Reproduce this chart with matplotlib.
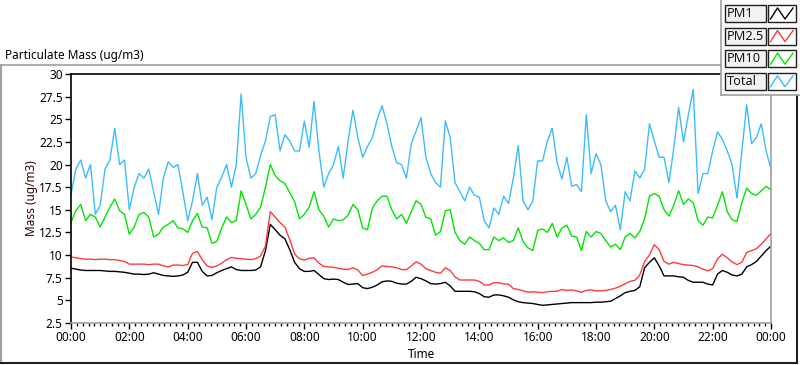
import numpy as np
import matplotlib
matplotlib.use("Agg")
import matplotlib.pyplot as plt
from matplotlib.patches import Rectangle
from matplotlib.lines import Line2D
from matplotlib.ticker import MultipleLocator, FuncFormatter

# 10-minute readings over one day (00:00 .. 24:00)
total = [16.7, 19.5, 20.5, 18.5, 20.0, 14.5, 15.5, 19.5, 20.5, 24.0, 20.0, 20.5, 15.0, 17.5, 19.0, 18.5, 19.5, 17.0, 14.5, 18.5, 20.3,
         19.7, 20.0, 17.0, 13.8, 16.0, 19.0, 15.5, 16.4, 13.9, 17.5, 18.6, 20.0, 17.5, 20.0, 27.8, 20.8, 18.5, 19.0, 21.0, 22.6, 25.3,
         25.5, 21.5, 23.3, 22.6, 21.5, 21.5, 24.8, 21.9, 27.0, 21.5, 17.5, 19.0, 20.0, 22.0, 18.5, 22.6, 26.0, 23.0, 20.8, 22.0,
         23.0, 25.0, 26.5, 24.5, 22.0, 20.2, 20.0, 18.5, 22.3, 23.7, 25.2, 20.8, 19.0, 18.0, 17.5, 24.8, 23.0, 18.0, 17.0, 16.0, 17.5,
         16.6, 16.4, 13.8, 13.0, 15.2, 14.5, 16.5, 15.7, 18.5, 22.1, 16.0, 15.0, 16.0, 20.4, 20.4, 22.6, 24.0, 20.2, 18.4, 20.8,
         17.6, 17.8, 17.0, 25.5, 19.0, 21.2, 20.0, 16.0, 14.8, 15.5, 12.8, 17.0, 16.0, 19.3, 18.5, 19.5, 24.5, 22.6, 20.8, 20.8, 18.0,
         21.8, 26.3, 22.5, 25.5, 28.3, 16.8, 19.0, 19.0, 21.5, 23.6, 22.8, 21.5, 20.0, 16.3, 21.5, 26.6, 22.3, 23.0, 24.5, 21.5, 19.5]

pm10 = [13.6, 14.9, 15.6, 13.8, 14.5, 14.2, 13.1, 14.2, 15.3, 16.2, 14.9, 14.5, 12.3, 13.1, 14.5, 14.7, 14.2, 12.0, 12.3, 13.1, 13.4,
        13.8, 13.0, 12.9, 12.5, 13.8, 14.6, 13.1, 13.0, 11.3, 11.5, 13.0, 14.2, 13.6, 13.8, 17.1, 15.6, 14.0, 14.5, 15.3, 17.5, 20.0,
        18.8, 18.2, 17.9, 16.9, 15.9, 14.0, 14.5, 15.3, 17.0, 15.0, 14.3, 13.1, 14.0, 13.8, 13.9, 14.4, 15.6, 15.0, 13.0, 12.8,
        15.2, 16.0, 16.5, 16.5, 15.0, 14.0, 14.5, 13.5, 14.8, 16.0, 15.6, 14.2, 14.0, 12.2, 12.6, 14.9, 15.0, 12.5, 11.6, 11.2, 12.0,
        11.6, 11.3, 10.6, 10.6, 12.0, 11.6, 11.9, 11.4, 11.6, 13.0, 11.5, 10.8, 10.5, 12.7, 12.9, 12.5, 13.5, 12.0, 13.0, 13.3,
        12.1, 12.0, 10.5, 12.6, 12.0, 12.6, 12.4, 11.6, 10.9, 11.2, 10.6, 12.0, 12.4, 11.9, 12.6, 14.0, 16.5, 16.8, 16.5, 15.0, 14.3,
        15.5, 17.1, 15.6, 16.2, 15.8, 13.8, 13.3, 14.2, 14.1, 15.5, 17.0, 14.8, 13.9, 13.7, 15.8, 17.4, 16.8, 16.6, 17.1, 17.6, 17.2]

pm25 = [9.8, 9.7, 9.6, 9.55, 9.55, 9.5, 9.55, 9.55, 9.5, 9.5, 9.4, 9.3, 9.0, 9.0, 9.0, 9.0, 8.95, 9.0, 9.0, 8.8, 8.7,
        8.9, 8.9, 8.85, 8.95, 10.2, 10.4, 9.5, 8.8, 8.65, 8.8, 9.1, 9.5, 9.75, 9.65, 9.6, 9.55, 9.5, 9.6, 9.9, 11.0, 14.8,
        14.2, 13.6, 13.1, 11.7, 10.1, 9.6, 9.45, 9.65, 9.7, 9.1, 8.75, 8.7, 8.65, 8.55, 8.45, 8.4, 8.6, 8.35, 7.75, 7.9,
        8.1, 8.4, 8.8, 8.75, 8.7, 8.6, 8.4, 8.4, 8.8, 9.25, 9.0, 8.5, 8.3, 8.1, 8.0, 8.6, 8.3, 7.6, 7.25, 7.25, 7.25,
        7.25, 7.1, 6.7, 6.7, 6.95, 6.95, 6.8, 6.8, 6.3, 6.2, 6.05, 5.9, 5.95, 5.9, 5.85, 5.95, 6.0, 6.0, 6.2, 6.1,
        6.15, 6.05, 5.9, 6.1, 6.15, 6.05, 6.05, 6.1, 6.2, 6.35, 6.55, 6.85, 7.1, 7.2, 7.8, 9.3, 10.0, 11.15, 10.6, 9.3, 9.0,
        9.2, 9.05, 8.95, 8.9, 8.85, 8.7, 8.45, 8.25, 8.5, 9.6, 10.1, 9.7, 9.25, 8.95, 9.2, 10.3, 10.5, 10.7, 11.2, 11.8, 12.4]

pm1 = [8.55, 8.45, 8.35, 8.3, 8.3, 8.3, 8.3, 8.25, 8.2, 8.2, 8.15, 8.1, 8.0, 7.9, 7.9, 7.85, 7.9, 8.05, 7.9, 7.75, 7.7,
       7.65, 7.7, 7.8, 8.1, 9.2, 9.2, 8.2, 7.7, 7.75, 8.05, 8.3, 8.5, 8.7, 8.4, 8.3, 8.3, 8.3, 8.35, 8.7, 10.5, 13.4,
       12.8, 12.2, 11.8, 10.6, 9.2, 8.5, 8.2, 8.2, 8.3, 7.85, 7.4, 7.3, 7.35, 7.3, 7.0, 6.75, 6.8, 6.85, 6.4, 6.3,
       6.45, 6.7, 7.05, 7.15, 7.1, 6.9, 6.8, 6.8, 7.1, 7.55, 7.4, 7.15, 6.85, 6.8, 6.85, 7.0, 6.6, 6.0, 6.0, 6.0, 6.0,
       5.95, 5.75, 5.4, 5.35, 5.6, 5.6, 5.5, 5.35, 5.05, 4.85, 4.75, 4.7, 4.65, 4.55, 4.45, 4.5, 4.55, 4.6, 4.65, 4.7,
       4.75, 4.75, 4.75, 4.75, 4.75, 4.8, 4.8, 4.85, 4.9, 5.2, 5.5, 5.85, 6.0, 6.1, 6.5, 8.6, 9.2, 9.7, 8.8, 7.7, 7.7,
       7.7, 7.6, 7.55, 7.2, 7.0, 7.0, 7.0, 6.8, 6.7, 7.9, 8.3, 8.1, 7.8, 7.7, 7.9, 8.7, 8.95, 9.3, 9.9, 10.5, 11.0]

series_names = ["PM1", "PM2.5", "PM10", "Total"]
series_colors = ["#000000", "#ff3c3c", "#00e600", "#3cbcff"]
series_data = [pm1, pm25, pm10, total]

hours = np.arange(len(total)) * 10 / 60.0

W, H = 800, 365
fig = plt.figure(figsize=(8, 3.65), dpi=100, facecolor="white")
plt.rcParams["font.family"] = ["Noto Sans", "DejaVu Sans"]


def fx(x):
    return x / W


def fy(y):
    return 1 - y / H


ax = fig.add_axes([fx(71), fy(323), fx(771) - fx(71), fy(74) - fy(323)])
for name, color, data in zip(series_names, series_colors, series_data):
    ax.plot(hours[:len(data)], data, color=color, lw=1.0)

ax.set_xlim(0, 24)
ax.set_ylim(2.5, 30)
ax.yaxis.set_major_locator(MultipleLocator(2.5))
ax.yaxis.set_major_formatter(FuncFormatter(lambda v, p: "{:g}".format(v)))
ax.xaxis.set_major_locator(MultipleLocator(2))
ax.xaxis.set_minor_locator(MultipleLocator(0.2))
ax.xaxis.set_major_formatter(FuncFormatter(lambda v, p: "%02d:00" % (int(round(v)) % 24)))
ax.tick_params(axis="both", which="major", labelsize=8.5, length=4, width=1, color="black", pad=2)
ax.tick_params(axis="x", which="minor", length=2.5, width=1, color="black")
ax.spines["top"].set_color("black")
ax.spines["left"].set_color("black")
ax.spines["bottom"].set_color("#a0a0a0")
ax.spines["right"].set_color("#a0a0a0")
for s in ax.spines.values():
    s.set_linewidth(1.2)

# labels
fig.text(fx(5), fy(55), "Particulate Mass (ug/m3)", fontsize=8.5, va="center", ha="left")
fig.text(fx(31), fy(198), "Mass (ug/m3)", fontsize=8.5, rotation=90, va="center", ha="center", color="#3a0000")
fig.text(fx(421), fy(354), "Time", fontsize=8.5, va="center", ha="center")

# panel frame
fig.add_artist(Line2D([fx(0.5), fx(721)], [fy(65), fy(65)], color="#a0a0a0", lw=1.2))
fig.add_artist(Line2D([fx(0.8), fx(0.8)], [fy(65), fy(363)], color="#a0a0a0", lw=1.5))
fig.add_artist(Line2D([fx(0), fx(797)], [fy(363), fy(363)], color="#202020", lw=1.5))
fig.add_artist(Line2D([fx(797), fx(797)], [fy(96), fy(363)], color="#202020", lw=1.5))

# legend panel
fig.add_artist(Rectangle((fx(721), fy(95)), fx(800) - fx(721), fy(0) - fy(95),
                         transform=fig.transFigure, facecolor="#fafafa", edgecolor="none"))
fig.add_artist(Line2D([fx(721), fx(721)], [fy(0), fy(95)], color="#a0a0a0", lw=1.2))
fig.add_artist(Line2D([fx(721), fx(800)], [fy(95), fy(95)], color="#a0a0a0", lw=1.2))
for r, (name, color) in enumerate(zip(series_names, series_colors)):
    top = 5 + 22.6 * r
    bot = top + 17
    fig.add_artist(Rectangle((fx(725), fy(bot)), fx(766) - fx(725), fy(top) - fy(bot),
                             transform=fig.transFigure, facecolor="#f2f2f2", edgecolor="#202020", lw=1.0))
    fig.add_artist(Rectangle((fx(768), fy(bot)), fx(796) - fx(768), fy(top) - fy(bot),
                             transform=fig.transFigure, facecolor="white", edgecolor="#202020", lw=1.0))
    fig.text(fx(727), fy((top + bot) / 2), name, fontsize=9.2, va="center", ha="left", color="#1a1020")
    fig.add_artist(Line2D([fx(770.5), fx(777.5), fx(785), fx(793)],
                          [fy(bot - 3), fy(top + 3), fy(bot - 3), fy(top + 3)], color=color, lw=1.0))

fig.savefig("out.png", dpi=100, facecolor="white")
